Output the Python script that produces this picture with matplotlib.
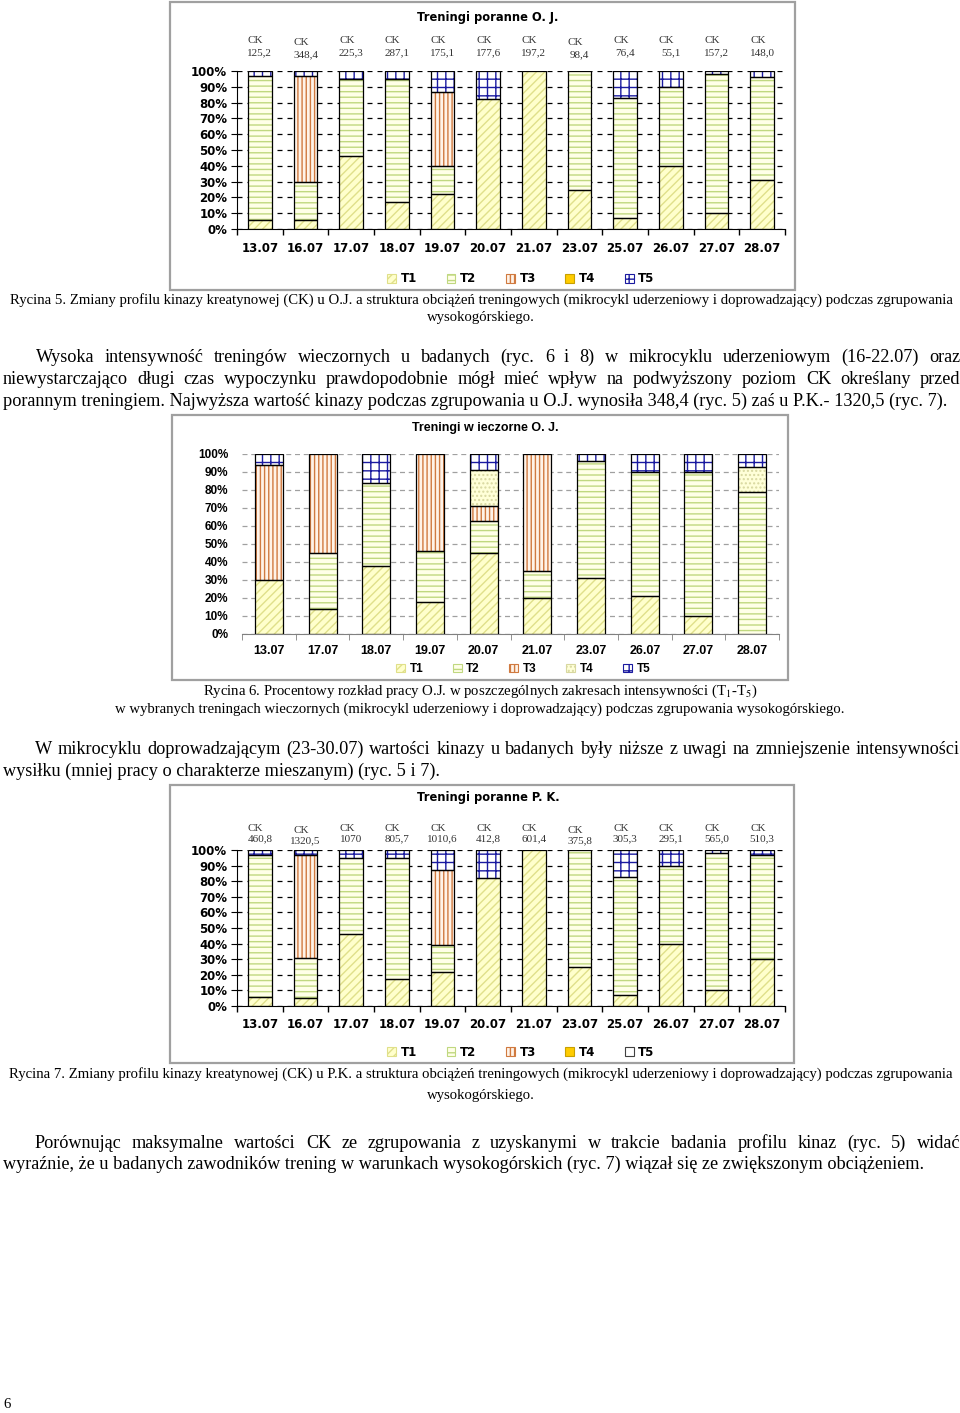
import numpy as np
import matplotlib
matplotlib.use('Agg')
import matplotlib.pyplot as plt
from matplotlib.patches import Patch, Rectangle

# ---- data ----
days_am = ['13.07', '16.07', '17.07', '18.07', '19.07', '20.07',
           '21.07', '23.07', '25.07', '26.07', '27.07', '28.07']
days_pm = ['13.07', '17.07', '18.07', '19.07', '20.07',
           '21.07', '23.07', '26.07', '27.07', '28.07']
legend_names = ['T1', 'T2', 'T3', 'T4', 'T5']

# Ryc. 5 - O.J. mornings
ck_oj = ['125,2', '348,4', '225,3', '287,1', '175,1', '177,6',
         '197,2', '98,4', '76,4', '55,1', '157,2', '148,0']
oj_am_t1 = [6, 6, 46, 17, 22, 82, 100, 25, 7, 40, 10, 31]
oj_am_t2 = [91, 24, 49, 78, 18, 0, 0, 75, 76, 50, 88, 65]
oj_am_t3 = [0, 67, 0, 0, 47, 0, 0, 0, 0, 0, 0, 0]
oj_am_t4 = [0, 0, 0, 0, 0, 0, 0, 0, 0, 0, 0, 0]
oj_am_t5 = [3, 3, 5, 5, 13, 18, 0, 0, 17, 10, 2, 4]

# Ryc. 6 - O.J. evenings
oj_pm_t1 = [30, 14, 38, 18, 45, 20, 31, 21, 10, 0]
oj_pm_t2 = [0, 31, 46, 28, 18, 15, 65, 69, 80, 79]
oj_pm_t3 = [64, 55, 0, 54, 8, 65, 0, 0, 0, 0]
oj_pm_t4 = [0, 0, 0, 0, 20, 0, 0, 0, 0, 14]
oj_pm_t5 = [6, 0, 16, 0, 9, 0, 4, 10, 10, 7]

# Ryc. 7 - P.K. mornings
ck_pk = ['460,8', '1320,5', '1070', '805,7', '1010,6', '412,8',
         '601,4', '375,8', '305,3', '295,1', '565,0', '510,3']
pk_am_t1 = [6, 5, 46, 17, 22, 82, 100, 25, 7, 40, 10, 30]
pk_am_t2 = [91, 26, 49, 78, 17, 0, 0, 75, 76, 50, 88, 67]
pk_am_t3 = [0, 66, 0, 0, 48, 0, 0, 0, 0, 0, 0, 0]
pk_am_t4 = [0, 0, 0, 0, 0, 0, 0, 0, 0, 0, 0, 0]
pk_am_t5 = [3, 3, 5, 5, 13, 18, 0, 0, 17, 10, 2, 3]

W, H = 960, 1413
plt.rcParams['hatch.linewidth'] = 1.0
plt.rcParams['mathtext.fontset'] = 'stix'

fig = plt.figure(figsize=(W / 100, H / 100), dpi=100)
fig.patch.set_facecolor('white')
r = fig.canvas.get_renderer()


def fx(x):
    return x / W


def fy(y):
    return 1 - y / H


# fill / hatch colour / hatch per zone
sty_am = [dict(fc='#FFFFCC', hc='#E0E08A', hatch='////'),
          dict(fc='#FFFFE8', hc='#C0D880', hatch='---'),
          dict(fc='#FFF3E8', hc='#D07A40', hatch='||||'),
          dict(fc='#FFCC00', hc='#C8A000', hatch=''),
          dict(fc='white', hc='#1A1AA0', hatch='++')]
sty_pm = [dict(fc='#FFFFCC', hc='#E0E08A', hatch='////'),
          dict(fc='#FFFFE8', hc='#C0D880', hatch='---'),
          dict(fc='#FFF3E8', hc='#D07A40', hatch='||||'),
          dict(fc='#FFFFD8', hc='#D8D8A0', hatch='....'),
          dict(fc='white', hc='#1A1AA0', hatch='++')]


def bars(ax, segs, styles, width):
    x = np.arange(len(segs[0]))
    bottom = np.zeros(len(x))
    for seg, st in zip(segs, styles):
        seg = np.asarray(seg, float)
        m = seg > 0
        ax.bar(x[m], seg[m], width, bottom=bottom[m], color=st['fc'],
               edgecolor=st['hc'], hatch=st['hatch'], linewidth=0, zorder=2)
        ax.bar(x[m], seg[m], width, bottom=bottom[m], fill=False,
               edgecolor='black', linewidth=0.9, zorder=3)
        bottom += seg


def frame(x0, y0, x1, y1):
    fig.add_artist(Rectangle((fx(x0), fy(y1)), (x1 - x0) / W, (y1 - y0) / H,
                             transform=fig.transFigure, fill=False,
                             edgecolor='#A0A0A0', linewidth=1.6))


def leg(handles_st, cx, cy, family, size):
    hs = [Patch(facecolor=s['fc'], edgecolor=s['hc'], hatch=s['hatch'], linewidth=0.8)
          for s in handles_st]
    fig.legend(hs, legend_names, loc='center', bbox_to_anchor=(fx(cx), fy(cy)),
               ncol=5, frameon=False, handlelength=0.75, handleheight=0.75,
               handletextpad=0.4, columnspacing=2.5,
               prop=dict(family=family, weight='bold', size=size))


def morning_chart(y_top, y_bot, segs, ck, title, title_y, lbl_off, leg_y, leg_st):
    ax = fig.add_axes([fx(237), fy(y_bot), 548 / W, (y_bot - y_top) / H])
    bars(ax, segs, sty_am, 0.52)
    n = len(days_am)
    ax.set_xlim(-0.5, n - 0.5)
    ax.set_ylim(0, 100)
    ax.set_yticks(np.arange(0, 101, 10))
    ax.set_yticklabels([f'{v}%' for v in range(0, 101, 10)],
                       fontweight='bold', fontsize=8.5, family='DejaVu Sans')
    ax.yaxis.grid(True, color='black', linestyle=(0, (4, 4)), linewidth=0.9)
    ax.set_axisbelow(True)
    ax.set_xticks(np.arange(n))
    ax.set_xticklabels(days_am, fontweight='bold', fontsize=8.5, family='DejaVu Sans')
    ax.set_xticks(np.arange(n + 1) - 0.5, minor=True)
    ax.tick_params(axis='x', which='major', length=0, pad=9)
    ax.tick_params(axis='x', which='minor', length=4, width=1)
    ax.tick_params(axis='y', length=4, pad=3)
    for s in ['top', 'right']:
        ax.spines[s].set_visible(False)
    for i, v in enumerate(ck):
        d = 2 if i in (1, 7) else 0
        ax.annotate('CK', (i, 100), xytext=(-3, (lbl_off[0] - d) / 1.389),
                    textcoords='offset points', ha='center', va='center',
                    family='Liberation Serif', fontsize=8, color='#333333')
        ax.annotate(v, (i, 100), xytext=(0, (lbl_off[1] - d) / 1.389),
                    textcoords='offset points', ha='center', va='center',
                    family='Liberation Serif', fontsize=8, color='#333333')
    fig.text(fx(488), fy(title_y), title, ha='center', va='center',
             fontsize=8.3, fontweight='bold', family='DejaVu Sans')
    leg(leg_st, 521, leg_y, 'DejaVu Sans', 8.5)


# ---- Ryc. 5 ----
frame(170, 2, 795, 290)
morning_chart(71, 229, [oj_am_t1, oj_am_t2, oj_am_t3, oj_am_t4, oj_am_t5],
              ck_oj, 'Treningi poranne O. J.', 17, (31, 18), 279, sty_am)

# ---- Ryc. 6 ----
frame(172, 415, 788, 680)
ax2 = fig.add_axes([fx(242), fy(634), 537 / W, 180 / H])
bars(ax2, [oj_pm_t1, oj_pm_t2, oj_pm_t3, oj_pm_t4, oj_pm_t5], sty_pm, 0.52)
n2 = len(days_pm)
ax2.set_xlim(-0.5, n2 - 0.5)
ax2.set_ylim(0, 100)
ax2.set_yticks(np.arange(0, 101, 10))
ax2.set_yticklabels([f'{v}%' for v in range(0, 101, 10)],
                    fontweight='bold', fontsize=8.5, family='Liberation Sans')
ax2.yaxis.grid(True, color='#A0A0A0', linestyle=(0, (4, 3)), linewidth=0.9)
ax2.set_axisbelow(True)
ax2.set_xticks(np.arange(n2))
ax2.set_xticklabels(days_pm, fontweight='bold', fontsize=9, family='Liberation Sans')
ax2.set_xticks(np.arange(n2 + 1) - 0.5, minor=True)
ax2.tick_params(axis='x', which='major', length=0, pad=8)
ax2.tick_params(axis='x', which='minor', length=4, color='#808080')
ax2.tick_params(axis='y', length=0, pad=10)
for s in ['top', 'right', 'left']:
    ax2.spines[s].set_visible(False)
ax2.spines['bottom'].set_color('#808080')
fig.text(fx(485), fy(428), 'Treningi w ieczorne O. J.', ha='center', va='center',
         fontsize=9, fontweight='bold', family='Liberation Sans')
leg(sty_pm, 523, 669, 'Liberation Sans', 8.5)

# ---- Ryc. 7 ----
sty_pk_leg = sty_am[:4] + [dict(fc='white', hc='#404040', hatch='')]
frame(170, 785, 794, 1063)
morning_chart(850, 1006, [pk_am_t1, pk_am_t2, pk_am_t3, pk_am_t4, pk_am_t5],
              ck_pk, 'Treningi poranne P. K.', 798, (22, 11), 1052, sty_pk_leg)


# ---- page text ----
def width_of(txt, size, family='Liberation Serif'):
    t = fig.text(0, 0, txt, fontsize=size, family=family)
    w = t.get_window_extent(r).width
    t.remove()
    return w


def put(txt, y, x0, size, ha='left'):
    fig.text(fx(x0), fy(y), txt, ha=ha, va='center', fontsize=size,
             family='Liberation Serif')


def put_just(txt, y, x0, x1, size):
    words = txt.split()
    ws = [width_of(w, size) for w in words]
    gap = ((x1 - x0) - sum(ws)) / (len(words) - 1)
    x = x0
    for w, wd in zip(words, ws):
        put(w, y, x, size)
        x += wd + gap


cap1 = ('Rycina 5. Zmiany profilu kinazy kreatynowej (CK) u O.J. a struktura obciążeń '
        'treningowych (mikrocykl uderzeniowy i doprowadzający) podczas zgrupowania')
cap_size = 10 * 943 / width_of(cap1, 10)

p1_last = ('porannym treningiem. Najwyższa wartość kinazy podczas zgrupowania u O.J. '
           'wynosiła 348,4 (ryc. 5) zaś u P.K.- 1320,5 (ryc. 7).')
p3_last = ('wyraźnie, że u badanych zawodników trening w warunkach wysokogórskich '
           '(ryc. 7) wiązał się ze zwiększonym obciążeniem.')
body_size = 0.5 * (12 * 937 / width_of(p1_last, 12) + 12 * 932 / width_of(p3_last, 12))

put(cap1, 300, 481, cap_size, ha='center')
put('wysokogórskiego.', 318, 481, cap_size, ha='center')

put_just('Wysoka intensywność treningów wieczornych u badanych (ryc. 6 i 8) '
         'w mikrocyklu uderzeniowym (16-22.07) oraz', 357, 36, 960, body_size)
put_just('niewystarczająco długi czas wypoczynku prawdopodobnie mógł mieć wpływ '
         'na podwyższony poziom CK określany przed', 379, 3, 960, body_size)
put(p1_last, 401, 3, body_size)

put('Rycina 6. Procentowy rozkład pracy O.J. w poszczególnych zakresach '
    'intensywności (T$_1$-T$_5$)', 691, 480, cap_size, ha='center')
put('w wybranych treningach wieczornych (mikrocykl uderzeniowy i doprowadzający) '
    'podczas zgrupowania wysokogórskiego.', 709, 480, cap_size, ha='center')

put_just('W mikrocyklu doprowadzającym (23-30.07) wartości kinazy u badanych były '
         'niższe z uwagi na zmniejszenie intensywności', 749, 35, 960, body_size)
put('wysiłku (mniej pracy o charakterze mieszanym) (ryc. 5 i 7).', 771, 3, body_size)

put('Rycina 7. Zmiany profilu kinazy kreatynowej (CK) u P.K. a struktura obciążeń '
    'treningowych (mikrocykl uderzeniowy i doprowadzający) podczas zgrupowania',
    1074, 481, cap_size, ha='center')
put('wysokogórskiego.', 1096, 481, cap_size, ha='center')

put_just('Porównując maksymalne wartości CK ze zgrupowania z uzyskanymi w trakcie '
         'badania profilu kinaz (ryc. 5) widać', 1143, 35, 960, body_size)
put(p3_last, 1164, 3, body_size)

put('6', 1405, 3, cap_size)

fig.savefig('out.png', dpi=100, facecolor='white')
